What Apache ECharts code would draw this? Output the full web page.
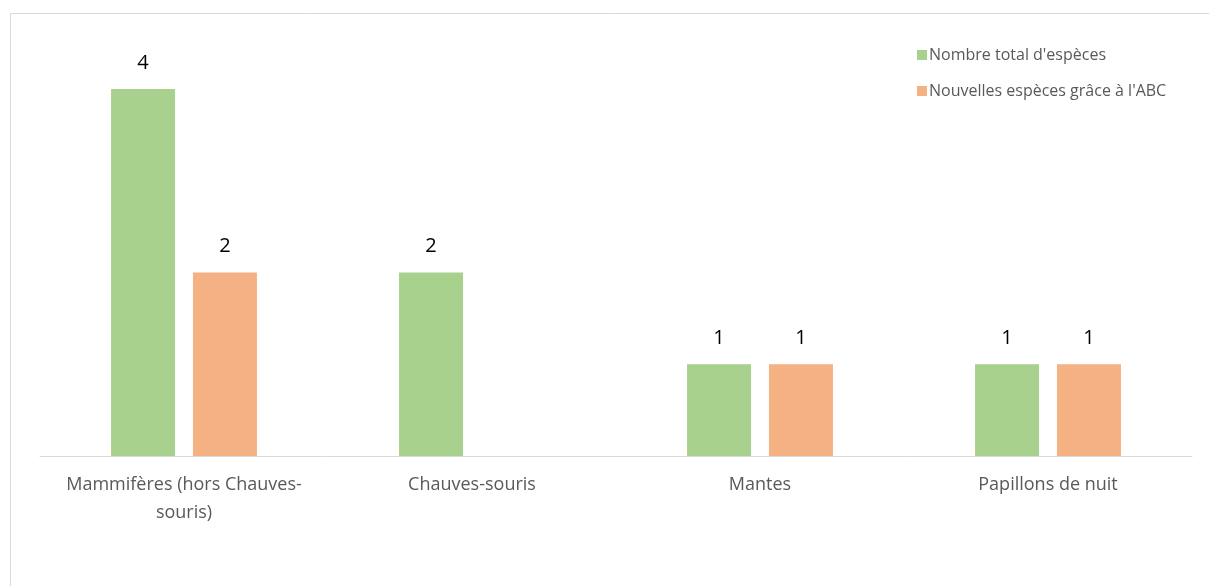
<!DOCTYPE html>
<html><head><meta charset="utf-8">
<script src="https://cdn.jsdelivr.net/npm/echarts@6/dist/echarts.min.js"></script>
<style>html,body{margin:0;padding:0;background:#fff}#c{width:1209px;height:586px}</style>
</head><body><div id="c"></div>
<script>
const categories = ["Mammifères (hors Chauves-souris)", "Chauves-souris", "Mantes", "Papillons de nuit"];
const totalSpecies = [4, 2, 1, 1];
const newSpecies = [2, null, 1, 1];
const seriesNames = ["Nombre total d'espèces", "Nouvelles espèces grâce à l'ABC"];

const FONT = 'Open Sans, Liberation Sans, sans-serif';
const chart = echarts.init(document.getElementById('c'));
const labelStyle = {show: true, position: 'top', distance: 16, fontSize: 20, color: '#000', fontFamily: FONT};
chart.setOption({
  animation: false,
  graphic: [{type: 'rect', shape: {x: 10.5, y: 13.5, width: 1300, height: 700}, style: {fill: 'none', stroke: '#D9D9D9', lineWidth: 1}, silent: true}],
  legend: {
    orient: 'vertical', left: 912, top: 42, itemWidth: 10, itemHeight: 10, itemGap: 20,
    icon: 'rect',
    textStyle: {fontSize: 16, color: '#595959', fontFamily: FONT, padding: [0, 0, 0, -3]},
    data: seriesNames
  },
  grid: {left: 40, right: 17, top: 89, bottom: 130, containLabel: false},
  xAxis: {
    type: 'category', data: categories,
    axisLine: {lineStyle: {color: '#D9D9D9', width: 1}},
    axisTick: {show: false},
    axisLabel: {
      fontSize: 18, color: '#595959', lineHeight: 28, margin: 15, interval: 0,
      fontFamily: FONT,
      formatter: v => v.length > 25 ? v.replace('Chauves-souris)', 'Chauves-\nsouris)') : v
    }
  },
  yAxis: {type: 'value', min: 0, max: 4, show: false, splitLine: {show: false}},
  series: [
    {name: seriesNames[0], type: 'bar', data: totalSpecies, barWidth: 64, barGap: '28%',
     itemStyle: {color: '#A9D18E'}, label: labelStyle},
    {name: seriesNames[1], type: 'bar', data: newSpecies, barWidth: 64,
     itemStyle: {color: '#F4B183'}, label: labelStyle}
  ]
});
</script></body></html>
